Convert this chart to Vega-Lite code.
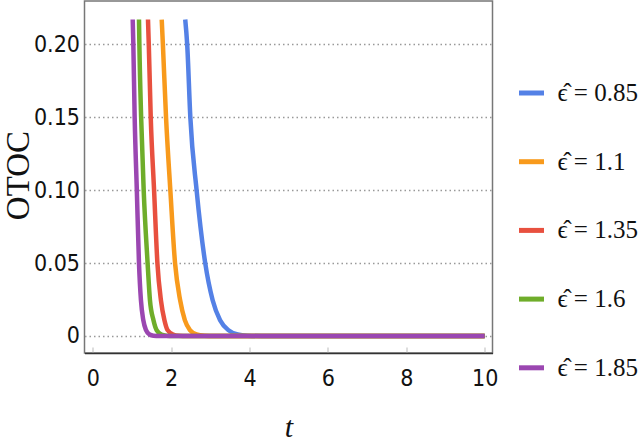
{
  "$schema": "https://vega.github.io/schema/vega-lite/v6.json",
  "width": 408,
  "height": 352,
  "autosize": {"type": "none"},
  "padding": {"left": 84.5, "top": 1, "right": 147.5, "bottom": 90},
  "background": "white",
  "config": {
    "view": {"stroke": "#777", "strokeWidth": 1.5}
  },
  "data": {
    "values": [
      {"t": 2.36, "v": 0.217, "eps": 0.85}, {"t": 2.41, "v": 0.2, "eps": 0.85}, {"t": 2.49, "v": 0.15, "eps": 0.85}, {"t": 2.65, "v": 0.1, "eps": 0.85}, {"t": 2.87, "v": 0.05, "eps": 0.85}, {"t": 3.06, "v": 0.0245, "eps": 0.85}, {"t": 3.25, "v": 0.0108, "eps": 0.85}, {"t": 3.46, "v": 0.004, "eps": 0.85}, {"t": 3.7, "v": 0.001, "eps": 0.85}, {"t": 3.95, "v": 0.0002, "eps": 0.85}, {"t": 4.3, "v": 0, "eps": 0.85}, {"t": 10, "v": 0, "eps": 0.85},
      {"t": 1.76, "v": 0.217, "eps": 1.1}, {"t": 1.79, "v": 0.2, "eps": 1.1}, {"t": 1.87, "v": 0.15, "eps": 1.1}, {"t": 1.98, "v": 0.1, "eps": 1.1}, {"t": 2.1, "v": 0.05, "eps": 1.1}, {"t": 2.23, "v": 0.0245, "eps": 1.1}, {"t": 2.35, "v": 0.0108, "eps": 1.1}, {"t": 2.48, "v": 0.004, "eps": 1.1}, {"t": 2.65, "v": 0.001, "eps": 1.1}, {"t": 2.85, "v": 0.0002, "eps": 1.1}, {"t": 3.1, "v": 0, "eps": 1.1}, {"t": 10, "v": 0, "eps": 1.1},
      {"t": 1.41, "v": 0.217, "eps": 1.35}, {"t": 1.43, "v": 0.2, "eps": 1.35}, {"t": 1.48, "v": 0.15, "eps": 1.35}, {"t": 1.565, "v": 0.1, "eps": 1.35}, {"t": 1.65, "v": 0.05, "eps": 1.35}, {"t": 1.74, "v": 0.0245, "eps": 1.35}, {"t": 1.83, "v": 0.0108, "eps": 1.35}, {"t": 1.91, "v": 0.004, "eps": 1.35}, {"t": 2.05, "v": 0.001, "eps": 1.35}, {"t": 2.2, "v": 0.0002, "eps": 1.35}, {"t": 2.4, "v": 0, "eps": 1.35}, {"t": 10, "v": 0, "eps": 1.35},
      {"t": 1.18, "v": 0.217, "eps": 1.6}, {"t": 1.19, "v": 0.2, "eps": 1.6}, {"t": 1.235, "v": 0.15, "eps": 1.6}, {"t": 1.3, "v": 0.1, "eps": 1.6}, {"t": 1.4, "v": 0.05, "eps": 1.6}, {"t": 1.46, "v": 0.0245, "eps": 1.6}, {"t": 1.55, "v": 0.0108, "eps": 1.6}, {"t": 1.63, "v": 0.004, "eps": 1.6}, {"t": 1.75, "v": 0.001, "eps": 1.6}, {"t": 1.88, "v": 0.0002, "eps": 1.6}, {"t": 2.05, "v": 0, "eps": 1.6}, {"t": 10, "v": 0, "eps": 1.6},
      {"t": 1.02, "v": 0.217, "eps": 1.85}, {"t": 1.036, "v": 0.2, "eps": 1.85}, {"t": 1.07, "v": 0.15, "eps": 1.85}, {"t": 1.125, "v": 0.1, "eps": 1.85}, {"t": 1.18, "v": 0.05, "eps": 1.85}, {"t": 1.23, "v": 0.0245, "eps": 1.85}, {"t": 1.29, "v": 0.0108, "eps": 1.85}, {"t": 1.36, "v": 0.004, "eps": 1.85}, {"t": 1.45, "v": 0.001, "eps": 1.85}, {"t": 1.55, "v": 0.0002, "eps": 1.85}, {"t": 1.7, "v": 0, "eps": 1.85}, {"t": 10, "v": 0, "eps": 1.85}
    ]
  },
  "mark": {"type": "line", "strokeWidth": 4.5, "interpolate": "monotone", "strokeCap": "butt"},
  "encoding": {
    "x": {
      "field": "t", "type": "quantitative",
      "scale": {"domain": [-0.21, 10.2], "nice": false, "zero": false},
      "axis": {
        "values": [0, 2, 4, 6, 8, 10],
        "grid": false,
        "domainColor": "#333", "domainWidth": 1.5,
        "tickColor": "#bbb", "tickSize": -6, "tickWidth": 1,
        "labelFont": "'Liberation Sans Narrow', 'DejaVu Sans Condensed', sans-serif",
        "labelFontSize": 23, "labelColor": "#111", "labelPadding": 20,
        "title": "t",
        "titleFont": "'Liberation Serif', serif", "titleFontStyle": "italic", "titleFontWeight": "normal",
        "titleFontSize": 30, "titleColor": "#111",
        "titleBaseline": "alphabetic", "titleY": 83, "titleX": 204
      }
    },
    "y": {
      "field": "v", "type": "quantitative",
      "scale": {"domain": [-0.0117, 0.2297], "nice": false, "zero": false},
      "axis": {
        "values": [0, 0.05, 0.1, 0.15, 0.2],
        "labelExpr": "datum.value == 0 ? '0' : format(datum.value, '.2f')",
        "domain": false, "ticks": false,
        "grid": true, "gridColor": "#999", "gridDash": [1.5, 3], "gridWidth": 1.5,
        "labelFont": "'Liberation Sans Narrow', 'DejaVu Sans Condensed', sans-serif",
        "labelFontSize": 23, "labelColor": "#111", "labelPadding": 5,
        "title": "OTOC",
        "titleFont": "'Liberation Serif', serif", "titleFontWeight": "normal",
        "titleFontSize": 33, "titleColor": "#111",
        "titleAngle": -90, "titleBaseline": "middle", "titleAlign": "center",
        "titleX": -66, "titleY": 174
      }
    },
    "color": {
      "field": "eps", "type": "nominal",
      "scale": {"domain": [0.85, 1.1, 1.35, 1.6, 1.85], "range": ["#5481e6", "#f89a1c", "#e8503f", "#6fad2a", "#9b47b1"]},
      "legend": {
        "title": null,
        "orient": "none", "legendX": 432, "legendY": 77,
        "symbolType": "stroke", "symbolSize": 625, "symbolStrokeWidth": 5,
        "labelExpr": "'\u03f5\u0302 = ' + datum.label",
        "labelFont": "'Liberation Serif', 'DejaVu Serif', serif", "labelFontSize": 25, "labelColor": "#111",
        "labelOffset": 11, "rowPadding": 40.7, "padding": 0, "labelLimit": 200
      }
    }
  }
}
